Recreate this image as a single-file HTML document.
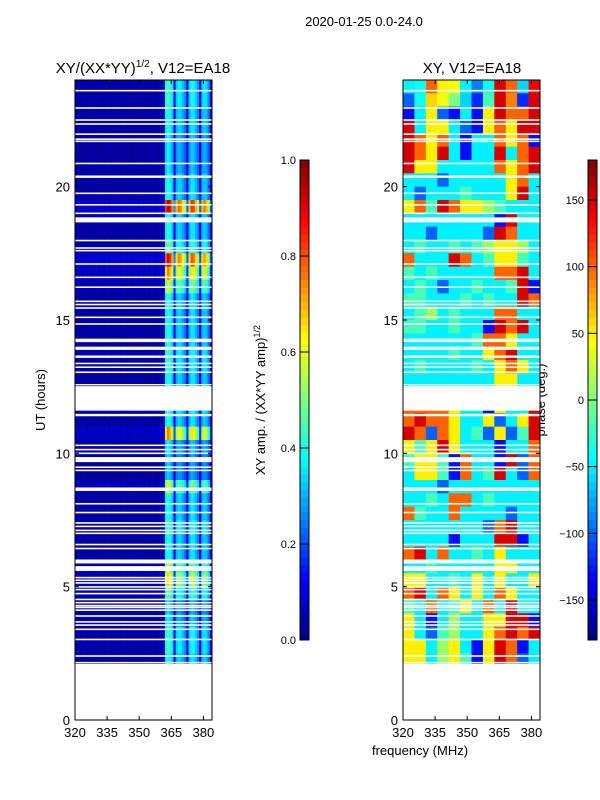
<!DOCTYPE html>
<html><head><meta charset="utf-8"><style>
body{margin:0;background:#fff;}
svg{display:block;font-family:"Liberation Sans","DejaVu Sans",sans-serif;}
</style></head><body>
<svg id="fig" width="600" height="800" viewBox="0 0 600 800">
<text x="364" y="26" font-size="13" text-anchor="middle">2020-01-25 0.0-24.0</text>
<text x="143" y="73" font-size="15" text-anchor="middle">XY/(XX*YY)<tspan font-size="10" dy="-6">1/2</tspan><tspan dy="6">, V12=EA18</tspan></text>
<text x="472" y="73" font-size="15" text-anchor="middle">XY, V12=EA18</text>
<text transform="translate(45,400) rotate(-90)" font-size="13" text-anchor="middle">UT (hours)</text>
<text x="420" y="755" font-size="13" text-anchor="middle">frequency (MHz)</text>
<text transform="translate(265,400) rotate(-90)" font-size="13" text-anchor="middle">XY amp. / (XX*YY amp)<tspan font-size="9" dy="-5">1/2</tspan></text>
<text transform="translate(545,400) rotate(-90)" font-size="13" text-anchor="middle">phase (deg.)</text>
<g id="amp"></g>
<g id="phase"></g>
<g id="axes"></g>
<g id="cbars"></g>
</svg>
<script>
// frequency bins (1 MHz, 320..384) amplitude profile
const ampProfile=[0.03,0.04,0.04,0.03,0.04,0.03,0.04,0.04,0.03,0.04,0.04,0.03,0.04,0.03,0.04,0.04,0.03,0.04,0.03,0.04,0.04,0.03,0.04,0.04,0.03,0.04,0.03,0.04,0.04,0.03,0.04,0.04,0.03,0.04,0.03,0.04,0.04,0.03,0.04,0.04,0.04,0.05,0.36,0.42,0.38,0.32,0.12,0.30,0.34,0.32,0.28,0.24,0.1,0.3,0.36,0.35,0.3,0.25,0.1,0.3,0.33,0.3,0.24,0.1];
// row gains, 0.5 h rows, top-down from 24h to 2h
const ampGain=[1.1,1.1,1.0,1.0,0.9,0.9,0.9,1.0,1.0,2.3,1.0,1.0,1.2,2.2,1.8,1.4,1.0,1.0,1.0,1.0,1.1,1.1,1.0,1.0,1.1,1.0,1.8,0.9,0.8,0.8,1.4,1.0,1.0,1.1,1.0,1.0,1.4,1.6,1.2,0.8,0.9,1.1,1.1,1.0];
// phase (deg), 0.5 h rows top-down, 12 freq columns
const phaseGrid=[
[-50,-40,100,50,40,-50,-90,-40,150,100,-60,140],
[-100,-40,60,40,0,-60,-120,-20,150,90,-120,150],
[-130,-50,50,-100,-130,-50,-130,50,150,100,100,150],
[150,-50,50,50,-50,-100,-130,50,100,50,150,150],
[150,100,50,100,-50,-130,-50,-50,100,50,100,-130],
[150,100,50,150,-50,-130,-50,-50,150,-50,100,150],
[150,50,50,-50,-50,-50,-50,-50,100,50,100,150],
[-50,-50,-50,-100,-50,-50,-50,-50,-50,50,100,-50],
[-50,-100,-50,-50,-50,-20,-50,-50,-50,50,150,-50],
[50,100,-20,150,100,50,50,10,-20,-50,-50,-50],
[-50,-50,-50,-50,-50,-50,-50,-50,-130,150,-50,-50],
[-50,-50,-100,-50,-50,-50,-50,-100,150,100,-50,-50],
[-50,-20,-50,-50,-20,-50,-20,10,50,50,10,-50],
[100,-50,-50,-50,150,100,-50,-20,50,50,-20,-50],
[-20,-50,-20,-50,-50,-50,-50,-50,100,100,150,-50],
[-50,-20,-50,-100,-50,-50,-20,-50,-50,-20,150,-130],
[-20,-20,-50,-50,-50,-20,-50,-20,-50,-50,150,100],
[-50,-20,10,-50,-20,-50,-50,-50,100,100,-50,-50],
[-20,-20,-50,-50,-20,-50,-50,-130,150,100,150,-50],
[-50,-50,-50,-50,-50,-50,-20,100,100,50,-50,-50],
[-50,-50,-50,-50,-20,-50,-50,50,100,150,-50,-50],
[-50,-20,-50,-50,-50,-50,-20,-50,50,100,50,-50],
[-50,-50,-50,-50,-50,-50,-50,-50,50,50,-50,-50],
[-50,-50,-50,-50,-50,-50,-50,-50,-50,-50,-50,-50],
[100,100,100,100,50,-50,-50,-130,50,-50,-50,150],
[100,150,100,100,50,-50,-50,50,-100,-50,50,150],
[150,100,-100,100,50,-50,-20,-100,50,-100,-20,150],
[50,-20,50,150,50,-50,-50,-50,-130,-50,-50,100],
[-20,50,50,-20,-130,100,-50,-50,-130,150,-100,100],
[-50,50,50,-20,-130,100,-50,-20,150,-50,-100,100],
[-50,-50,-50,-100,-50,-50,-50,-50,-50,-50,-50,-50],
[-50,-50,-20,-50,100,100,-50,-20,-50,-50,-50,-50],
[100,-20,-50,-50,100,-50,-50,-50,-50,-100,-50,-50],
[-50,-50,-50,-50,-50,-50,-50,-100,100,150,-50,-50],
[-50,-50,-50,-50,-130,-50,-50,-50,150,150,-130,-50],
[100,150,-50,100,-50,-50,-20,-50,50,-50,-50,-50],
[-50,-50,-20,-50,-50,-50,-50,-50,50,50,-50,-50],
[50,50,-50,-50,-20,-50,50,-50,50,-50,-50,50],
[100,150,-50,100,50,-50,50,-50,100,50,-50,-50],
[-20,-50,100,-50,-20,50,-50,100,-50,150,-50,-50],
[50,-50,-130,-50,10,-50,-50,50,50,150,150,-130],
[50,-50,-100,-20,10,-50,-50,50,100,150,100,150],
[50,50,-50,10,50,-50,-130,50,150,100,-130,-50],
[50,50,-50,10,50,-20,-130,50,150,100,-100,-50]];
// blank (flagged) time intervals in hours [start,end]
const gaps=[[0,2.1],[2.12,2.18],[2.37,2.43],[2.99,3.05],[3.37,3.43],[3.53,3.59],[3.65,3.71],[3.87,3.93],[4.09,4.15],[4.19,4.25],[4.26,4.32],[4.37,4.43],[4.49,4.55],[4.71,4.77],[4.86,4.92],[4.96,5.02],[5.11,5.17],[5.21,5.27],[5.31,5.37],[5.59,5.77],[5.87,6.02],[6.40,6.46],[6.55,6.61],[6.97,7.03],[7.08,7.14],[7.23,7.29],[7.36,7.42],[7.75,7.81],[8.08,8.14],[8.59,8.72],[9.33,9.39],[9.45,9.51],[9.67,9.86],[9.97,10.03],[10.11,10.17],[10.27,10.33],[11.39,11.48],[11.6,12.52],[12.56,12.6],[13.01,13.07],[13.2,13.26],[13.34,13.4],[13.58,13.67],[13.88,14.0],[14.17,14.3],[14.82,14.88],[15.07,15.13],[15.42,15.48],[15.55,15.61],[15.67,15.73],[16.2,16.26],[16.57,16.63],[17.07,17.13],[17.57,17.63],[17.67,17.73],[17.95,18.01],[18.66,18.85],[18.97,19.03],[19.29,19.35],[19.72,19.78],[20.33,20.42],[20.84,20.9],[21.67,21.73],[21.75,21.81],[21.94,22.0],[22.32,22.38],[22.47,22.53],[22.92,22.98],[23.57,23.63]];
const ampTicks=[0,0.2,0.4,0.6,0.8,1.0];
const phaseTicks=[-150,-100,-50,0,50,100,150];
const xTicks=[320,335,350,365,380];
const yTicks=[0,5,10,15,20];

const NS="http://www.w3.org/2000/svg";
const TOP=80,BOT=720,FMIN=320,FMAX=384;
const panels={amp:{x0:75,x1:212},phase:{x0:403,x1:540}};
function yScale(t){return BOT-(t/24)*(BOT-TOP);}
function xScale(p,f){return p.x0+(f-FMIN)/(FMAX-FMIN)*(p.x1-p.x0);}
function jet(v){v=Math.max(0,Math.min(1,v));
 const r=Math.max(0,Math.min(1,1.5-Math.abs(4*v-3))),g=Math.max(0,Math.min(1,1.5-Math.abs(4*v-2))),b=Math.max(0,Math.min(1,1.5-Math.abs(4*v-1)));
 return `rgb(${Math.round(r*255)},${Math.round(g*255)},${Math.round(b*255)})`;}
function mk(tag,attrs,parent){const e=document.createElementNS(NS,tag);for(const k in attrs)e.setAttribute(k,attrs[k]);parent.appendChild(e);return e;}

const nRows=ampGain.length;
const gA=document.getElementById('amp'),gP=document.getElementById('phase');
const pa=panels.amp,pp=panels.phase;
for(let r=0;r<nRows;r++){
 const t1=24-r*0.5,t0=t1-0.5;
 const y=yScale(t1),h=yScale(t0)-y;
 for(let c=0;c<ampProfile.length;c++){
  const f0=FMIN+c*(FMAX-FMIN)/ampProfile.length,f1=f0+(FMAX-FMIN)/ampProfile.length;
  const e=mk('rect',{x:xScale(pa,f0),y:y,width:xScale(pa,f1)-xScale(pa,f0)+0.3,height:h+0.3,fill:jet(ampProfile[c]*ampGain[r])},gA);
  
  
 }
 const row=phaseGrid[r];
 for(let c=0;c<row.length;c++){
  const f0=FMIN+c*(FMAX-FMIN)/row.length,f1=f0+(FMAX-FMIN)/row.length;
  const e=mk('rect',{x:xScale(pp,f0),y:y,width:xScale(pp,f1)-xScale(pp,f0)+0.3,height:h+0.3,fill:jet((row[c]+180)/360)},gP);
  
  
 }
}
// flagged gaps
for(const p of [pa,pp]){
 const g=p===pa?gA:gP;
 for(const [a,b] of gaps){
  const y=yScale(b),h=Math.max(1.4,yScale(a)-y);
  const e=mk('rect',{x:p.x0,y:y,width:p.x1-p.x0,height:h,fill:'#fff'},g);
  
  
 }
}
// axes
const gX=document.getElementById('axes');
for(const p of [pa,pp]){
 const fr=mk('rect',{x:p.x0,y:TOP,width:p.x1-p.x0,height:BOT-TOP,fill:'none',stroke:'#000','stroke-width':1},gX);
 
 
 for(const f of xTicks){const x=xScale(p,f);
  mk('line',{x1:x,x2:x,y1:BOT,y2:BOT-4,stroke:'#000'},gX);
  mk('line',{x1:x,x2:x,y1:TOP,y2:TOP+4,stroke:'#000'},gX);
  const t=mk('text',{x:x,y:BOT+17,'font-size':13,'text-anchor':'middle'},gX);t.textContent=f;
  
  }
 for(const v of yTicks){const y=yScale(v);
  mk('line',{x1:p.x0,x2:p.x0+4,y1:y,y2:y,stroke:'#000'},gX);
  mk('line',{x1:p.x1,x2:p.x1-4,y1:y,y2:y,stroke:'#000'},gX);
  const t=mk('text',{x:p.x0-5,y:y+5,'font-size':13,'text-anchor':'end'},gX);t.textContent=v;
  
  }
}
// colorbars
const gC=document.getElementById('cbars');
const CB_T=160,CB_B=640;
function colorbar(x,vmin,vmax,ticks,name){
 const n=64;
 for(let i=0;i<n;i++){
  const y=CB_T+(CB_B-CB_T)*i/n;
  const e=mk('rect',{x:x,y:y,width:9,height:(CB_B-CB_T)/n+0.5,fill:jet(1-(i+0.5)/n)},gC);
  
  
 }
 mk('rect',{x:x,y:CB_T,width:9,height:CB_B-CB_T,fill:'none',stroke:'#000','stroke-width':1},gC);
 for(const v of ticks){
  const y=CB_B-(v-vmin)/(vmax-vmin)*(CB_B-CB_T);
  mk('line',{x1:x,x2:x+9,y1:y,y2:y,stroke:'#000'},gC);
  const t=mk('text',{x:x-4,y:y+4,'font-size':11,'text-anchor':'end'},gC);
  t.textContent=(name==='amp-colorbar'?v.toFixed(1):String(v).replace('-','\u2212'));
  
  
 }
}
colorbar(300,0,1,ampTicks,'amp-colorbar');
colorbar(588,-180,180,phaseTicks,'phase-colorbar');
</script>
</body></html>
